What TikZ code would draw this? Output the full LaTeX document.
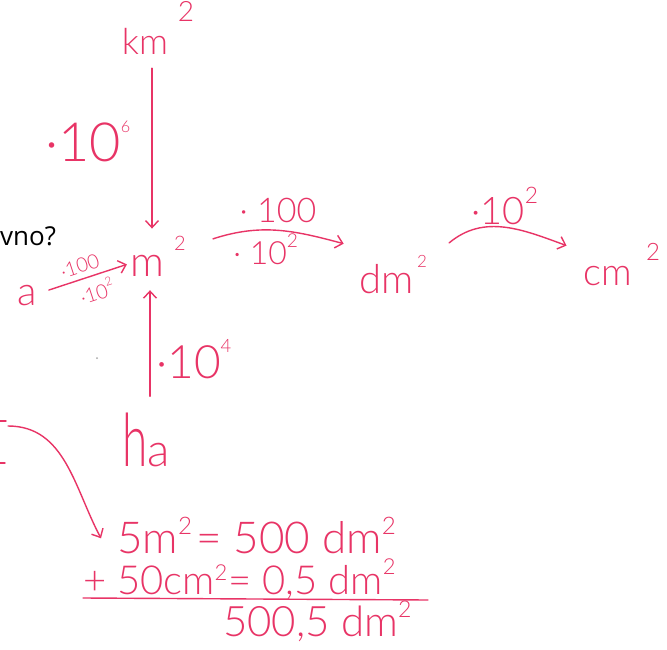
\documentclass[tikz,border=0pt]{standalone}
\usepackage{fontspec}
\usepackage{graphicx}
\setmainfont{Lato Light}
\newfontfamily\qfont{Open Sans}
\usetikzlibrary{arrows.meta,calc}
\definecolor{ink}{RGB}{232,52,102}
\newcommand\hexp[2][.6]{\raisebox{.55em}{\scalebox{#1}{#2}}}
\newcommand\lsq[1][.42em]{\raisebox{#1}{\scalebox{.55}{2}}}
\tikzset{
  hw/.style={text=ink, inner sep=0pt, font=\fontsize{#1}{#1}\selectfont},
  qtext/.style={text=black, inner sep=0pt, font=\qfont\fontsize{26}{26}\selectfont},
  conn/.style={draw=ink, line width=1.4pt, line cap=round, line join=round,
    -{Straight Barb[length=7pt,width=13pt,line width=1.4pt]}},
  stroke/.style={draw=ink, line width=1.4pt, line cap=round}
}
\begin{document}
\begin{tikzpicture}[x=1pt,y=-1pt]
\fill[white] (0,0) rectangle (667,650);
\useasboundingbox (0,0) rectangle (667,650);

% black text
\node[qtext, anchor=base west] (q) at (0,245) {vno?};

% units
\node[hw=36, anchor=base] (km) at (145,55) {km};
\node[hw=28, anchor=base] (kmsq) at (186,22) {2};
\node[hw=42, anchor=base] (m) at (147,276) {m};
\node[hw=20, anchor=base] (msq) at (180,250) {2};
\node[hw=40, anchor=base] (a) at (27,305) {a};
\node[hw=46, anchor=base] (ha) at (146,466) {\scalebox{1}[1.6]{h}a};
\node[hw=40, anchor=base] (dm) at (387,293) {dm};
\node[hw=17, anchor=base] (dmsq) at (422,267) {2};
\node[hw=38, anchor=base] (cm) at (608,285) {cm};
\node[hw=24, anchor=base] (cmsq) at (653,260) {2};

% factor labels beside vertical arrows
\node[hw=54, anchor=base west] (f6) at (45,162) {·10\hexp[.3]{6}};
\node[hw=46, anchor=base west] (f4) at (156,378) {·10\hexp[.4]{4}};

% vertical connectors
\draw[conn] ($(km.south)+(7,13)$) -- ($(m.north)+(5,-26)$);
\draw[conn] ($(ha.north)+(4,-16)$) -- ($(m.south)+(3,14)$);

% a -> m
\draw[conn] ($(a.east)+(12,-5)$) -- ($(m.west)+(-3,-1)$)
  node[pos=.45, hw=20, sloped, above=5pt] (l100a) {·100}
  node[pos=.55, hw=20, sloped, below=5pt] (l102a) {·10\hexp{2}};

% m -> dm
\draw[conn] ($(msq.east)+(27,-4)$) to[out=18, in=165]
  node[pos=.5, hw=34, above=7pt] (l100b) {· 100}
  node[pos=.4, hw=32, below=3pt] (l102b) {· 10\hexp{2}}
  ($(dm.north west)+(-16,-20)$);

% dm -> cm
\draw[conn] ($(dmsq.east)+(22,-18)$) to[out=40, in=160]
  node[pos=.5, hw=38, above=2pt] (l102c) {·10\hexp{2}}
  ($(cm.north west)+(-17,-20)$);

% bottom computation
\node[hw=44, anchor=base west] (l1) at (117,553) {5m\lsq\hspace{4pt}= 500 dm\lsq};
\node[hw=40, anchor=base west] (l2) at (83,594) {+ 50cm\lsq[.33em]\hspace{1pt}= 0,5 dm\lsq[.5em]};
\node[hw=42, anchor=base west] (l3) at (223,636) {500,5 dm\lsq[.45em]};
\draw[stroke] ($(l2.base west)+(0,4)$) -- ($(l2.base west)+(345,6)$);

% curved arrow from the left edge
\coordinate (src) at (8,426);
\draw[conn] (src) to[out=0, in=118] ($(l1.west)+(-16,3)$);

% pieces at the left edge
\draw[stroke] (0,421) -- (6,421);
\draw[stroke] (0,463) -- (5,463);
\fill[gray!70] (97,358) circle (1);
\end{tikzpicture}
\end{document}
